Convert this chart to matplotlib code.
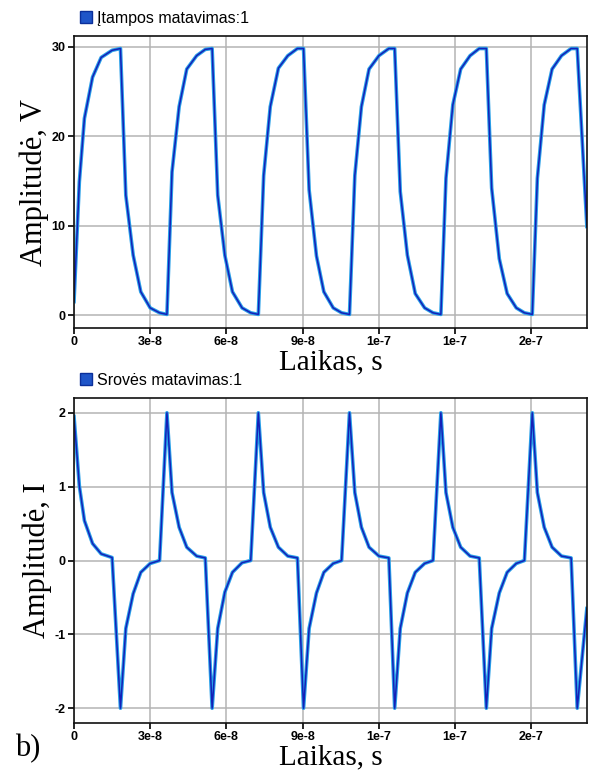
import numpy as np
import matplotlib
matplotlib.use("Agg")
import matplotlib.pyplot as plt
from matplotlib.lines import Line2D

plt.rcParams["axes.unicode_minus"] = False

# sample times in ns
t_ns = [0.0, 2.1, 4.1, 7.3, 10.7, 15.0, 18.3,
        20.4, 23.3, 26.3, 30.0, 33.7, 36.6,
        38.6, 41.4, 44.4, 48.3, 51.7, 54.4,
        56.6, 59.4, 62.4, 66.2, 69.6, 72.6,
        74.7, 77.3, 80.5, 84.2, 88.0, 90.4,
        92.6, 95.5, 98.4, 102.1, 105.4, 108.5,
        110.6, 113.2, 116.2, 120.1, 124.0, 126.3,
        128.5, 131.3, 134.4, 138.1, 141.4, 144.5,
        146.5, 149.2, 152.3, 156.0, 159.6, 162.4,
        164.5, 167.5, 170.6, 174.2, 177.4, 180.5,
        182.5, 185.2, 188.3, 192.0, 195.8, 198.2,
        202.0]

voltage = [1.5, 14.9, 22.0, 26.6, 28.8, 29.6, 29.8,
           13.4, 6.7, 2.6, 0.8, 0.25, 0.07,
           16.0, 23.3, 27.5, 29.0, 29.7, 29.8,
           13.4, 6.7, 2.6, 0.8, 0.25, 0.07,
           15.6, 23.3, 27.6, 29.0, 29.8, 29.8,
           14.0, 6.6, 2.6, 0.8, 0.25, 0.07,
           15.6, 23.3, 27.5, 29.0, 29.8, 29.8,
           13.8, 6.7, 2.4, 0.8, 0.25, 0.07,
           15.3, 23.5, 27.5, 29.0, 29.8, 29.8,
           14.2, 6.3, 2.4, 0.8, 0.25, 0.07,
           15.3, 23.5, 27.5, 29.0, 29.8, 29.8,
           9.9]

current = [1.95, 1.01, 0.54, 0.23, 0.09, 0.04, -2.0,
           -0.92, -0.45, -0.16, -0.04, 0.0, 2.0,
           0.92, 0.45, 0.18, 0.06, 0.035, -2.0,
           -0.92, -0.43, -0.16, -0.03, 0.0, 2.0,
           0.92, 0.45, 0.18, 0.06, 0.035, -2.0,
           -0.92, -0.44, -0.16, -0.04, 0.0, 2.0,
           0.92, 0.45, 0.18, 0.06, 0.035, -2.0,
           -0.92, -0.44, -0.16, -0.04, 0.0, 2.0,
           0.92, 0.45, 0.18, 0.06, 0.035, -2.0,
           -0.92, -0.44, -0.16, -0.04, 0.0, 2.0,
           0.92, 0.45, 0.18, 0.06, 0.035, -2.0,
           -0.65]

x_ticks = [0, 3e-8, 6e-8, 9e-8, 1.2e-7, 1.5e-7, 1.8e-7]
x_labels = ["0", "3e-8", "6e-8", "9e-8", "1e-7", "1e-7", "2e-7"]
v_ticks = [0, 10, 20, 30]
i_ticks = [-2, -1, 0, 1, 2]

t = np.array(t_ns) * 1e-9

fig = plt.figure(figsize=(5.94, 7.76), dpi=100)
ax1 = fig.add_axes([0.1246, 0.5773, 0.8634, 0.3763])
ax2 = fig.add_axes([0.1246, 0.0683, 0.8634, 0.4188])

serif = "Liberation Serif"
sans = "Liberation Sans"


def style(ax, yticks, ylim, ylabel, legend_text):
    ax.set_xlim(0, 2.02e-7)
    ax.set_ylim(*ylim)
    ax.set_xticks(x_ticks)
    ax.set_xticklabels(x_labels)
    ax.set_yticks(yticks)
    ax.grid(True, color="#b4b4b4", lw=1.1)
    ax.set_axisbelow(True)
    for sp in ax.spines.values():
        sp.set_linewidth(1.2)
        sp.set_color("#111111")
    ax.tick_params(direction="out", length=4, width=1.2, labelsize=9, pad=2)
    for lab in ax.get_xticklabels() + ax.get_yticklabels():
        lab.set_fontfamily(sans)
        lab.set_fontweight("bold")
    ax.set_xlabel("Laikas, s", fontfamily=serif, fontsize=21, labelpad=1)
    ax.set_ylabel(ylabel, fontfamily=serif, fontsize=22, labelpad=2)
    h = Line2D([], [], marker="s", ls="", markersize=8,
               markerfacecolor="#1f55c8", markeredgecolor="#0b2f9a")
    ax.legend([h], [legend_text], loc="lower left", bbox_to_anchor=(-0.012, 1.0),
              frameon=False, handletextpad=0.2, borderpad=0.15, handlelength=1.0,
              prop={"family": sans, "size": 11.5})


for ax, y in [(ax1, voltage), (ax2, current)]:
    ax.plot(t, y, color="#2aa0e8", lw=2.6, solid_joinstyle="round")
    ax.plot(t, y, color="#1420b8", lw=1.1, solid_joinstyle="round")

style(ax1, v_ticks, (-1.45, 31.2), "Amplitudė, V", "Įtampos matavimas:1")
style(ax2, i_ticks, (-2.2, 2.2), "Amplitudė, I", "Srovės matavimas:1")

fig.text(0.025, 0.025, "b)", fontfamily=serif, fontsize=22)

fig.savefig("out.png", dpi=100)
